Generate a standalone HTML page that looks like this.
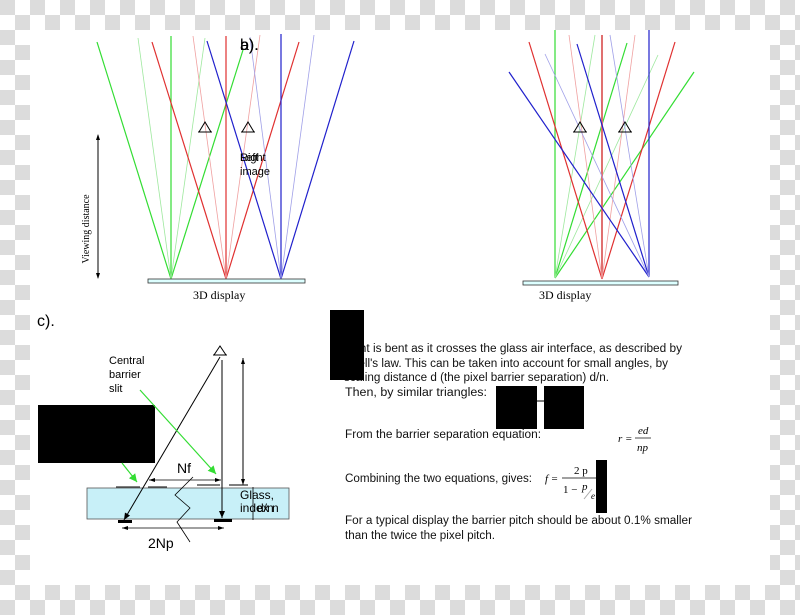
<!DOCTYPE html>
<html><head><meta charset="utf-8"><style>
html,body{margin:0;padding:0}
body{width:800px;height:615px;position:relative;overflow:hidden;
background-color:#fff;
background-image:conic-gradient(#fff 25%,#dcdcdc 0 50%,#fff 0 75%,#dcdcdc 0);
background-size:30px 30px;}
#w{position:absolute;left:30px;top:30px;width:740px;height:555px;background:#fff}
svg{position:absolute;left:0;top:0}
</style></head><body><div id="w"></div>
<svg width="800" height="615" viewBox="0 0 800 615" font-family="Liberation Sans, sans-serif">
<defs>
<marker id="ah" markerWidth="8" markerHeight="8" refX="7" refY="4" orient="auto" markerUnits="userSpaceOnUse"><path d="M0,1 L7,4 L0,7z" fill="#000"/></marker>
<marker id="ga" markerWidth="10" markerHeight="10" refX="8" refY="5" orient="auto" markerUnits="userSpaceOnUse"><path d="M0,1 L8,5 L0,9z" fill="#33dd33"/></marker>
</defs>
<!-- Panel a -->
<g stroke-width="1.2" fill="none">
<line x1="97" y1="42" x2="171" y2="279" stroke="#33dd33"/>
<line x1="171" y1="36" x2="171" y2="279" stroke="#33dd33"/>
<line x1="171" y1="279" x2="243" y2="50" stroke="#33dd33"/>
<line x1="138" y1="38" x2="171" y2="279" stroke="#9ee89e" stroke-width="0.8"/>
<line x1="205" y1="38" x2="171" y2="279" stroke="#9ee89e" stroke-width="0.8"/>
<line x1="152" y1="42" x2="226" y2="279" stroke="#e03030"/>
<line x1="226" y1="36" x2="226" y2="279" stroke="#e03030"/>
<line x1="226" y1="279" x2="299" y2="42" stroke="#e03030"/>
<line x1="193" y1="36" x2="226" y2="279" stroke="#f0a0a0" stroke-width="0.8"/>
<line x1="260" y1="35" x2="226" y2="279" stroke="#f0a0a0" stroke-width="0.8"/>
<line x1="207" y1="41" x2="281" y2="279" stroke="#2020cc"/>
<line x1="281" y1="34" x2="281" y2="279" stroke="#2020cc"/>
<line x1="281" y1="279" x2="354" y2="41" stroke="#2020cc"/>
<line x1="250" y1="37" x2="281" y2="279" stroke="#a0a0e8" stroke-width="0.8"/>
<line x1="314" y1="35" x2="281" y2="279" stroke="#a0a0e8" stroke-width="0.8"/>
</g>
<rect x="148" y="279" width="157" height="4" fill="#dff" stroke="#333" stroke-width="0.8"/>
<text x="240" y="50" font-size="16">b).</text><text x="240" y="50" font-size="16">a).</text>
<g fill="none" stroke="#000" stroke-width="1">
<path d="M199,132 L205,122 L211,132 Z M198,132 L212,132"/>
<path d="M242,132 L248,122 L254,132 Z M241,132 L255,132"/>
</g>
<text x="240" y="161" font-size="11">Right</text><text x="240" y="161" font-size="11">Left</text>
<text x="240" y="175" font-size="11">image</text>
<line x1="98" y1="135" x2="98" y2="278" stroke="#000" stroke-width="1"/>
<path d="M96,140 L98,134 L100,140Z M96,273 L98,279 L100,273Z" fill="#000"/>
<text transform="translate(89,229) rotate(-90)" text-anchor="middle" font-size="10" font-family="Liberation Serif, serif">Viewing distance</text>
<text x="193" y="299" font-size="12" font-family="Liberation Serif, serif">3D display</text>
<!-- Panel b -->
<g stroke-width="1.2" fill="none">
<line x1="555" y1="30" x2="555" y2="278" stroke="#33dd33"/>
<line x1="555" y1="278" x2="627" y2="43" stroke="#33dd33"/>
<line x1="555" y1="278" x2="694" y2="72" stroke="#33dd33"/>
<line x1="555" y1="278" x2="595" y2="35" stroke="#9ee89e" stroke-width="0.8"/>
<line x1="555" y1="278" x2="658" y2="55" stroke="#9ee89e" stroke-width="0.8"/>
<line x1="602" y1="35" x2="602" y2="279" stroke="#e07070" stroke-width="2"/>
<line x1="529" y1="42" x2="602" y2="279" stroke="#e03030"/>
<line x1="602" y1="279" x2="675" y2="42" stroke="#e03030"/>
<line x1="569" y1="35" x2="602" y2="279" stroke="#f0a0a0" stroke-width="0.8"/>
<line x1="635" y1="35" x2="602" y2="279" stroke="#f0a0a0" stroke-width="0.8"/>
<line x1="649" y1="30" x2="649" y2="277" stroke="#2020cc"/>
<line x1="509" y1="72" x2="649" y2="277" stroke="#2020cc"/>
<line x1="577" y1="44" x2="649" y2="277" stroke="#2020cc"/>
<line x1="545" y1="54" x2="649" y2="277" stroke="#a0a0e8" stroke-width="0.8"/>
<line x1="610" y1="35" x2="649" y2="277" stroke="#a0a0e8" stroke-width="0.8"/>
</g>
<rect x="523" y="281" width="155" height="4" fill="#dff" stroke="#333" stroke-width="0.8"/>
<g fill="none" stroke="#000" stroke-width="1">
<path d="M574,132 L580,122 L586,132 Z M573,132 L587,132"/>
<path d="M619,132 L625,122 L631,132 Z M618,132 L632,132"/>
</g>
<text x="539" y="299" font-size="12" font-family="Liberation Serif, serif">3D display</text>
<!-- Panel c -->
<text x="37" y="326" font-size="16">c).</text>
<text font-size="11"><tspan x="109" y="364">Central</tspan><tspan x="109" y="378">barrier</tspan><tspan x="109" y="392">slit</tspan></text>
<rect x="38" y="405" width="117" height="58" fill="#000"/>
<rect x="87" y="488" width="202" height="31" fill="#c8f0f8" stroke="#555" stroke-width="0.8"/>
<path d="M214,355 L220,346 L226,355 Z M213,355 L227,355" fill="none" stroke="#000"/>
<line x1="220" y1="357" x2="124" y2="520" stroke="#000" marker-end="url(#ah)"/>
<line x1="222" y1="360" x2="222" y2="518" stroke="#000" marker-end="url(#ah)"/>
<line x1="243" y1="358" x2="243" y2="485" stroke="#000"/>
<path d="M241,364 L243,358 L245,364Z M241,479 L243,485 L245,479Z" fill="#000"/>
<line x1="253" y1="487" x2="253" y2="520" stroke="#000" stroke-width="0.8"/>
<g stroke="#333" stroke-width="1.2"><line x1="116" y1="487" x2="140" y2="487"/><line x1="148" y1="487" x2="167" y2="487"/><line x1="197" y1="485" x2="220" y2="485"/><line x1="229" y1="485" x2="248" y2="485"/></g>
<rect x="118" y="520" width="14" height="3" fill="#000"/><rect x="214" y="519" width="18" height="3" fill="#000"/>
<line x1="149" y1="480" x2="221" y2="480" stroke="#000" stroke-width="0.8"/>
<path d="M155,478 L149,480 L155,482Z M215,478 L221,480 L215,482Z" fill="#000"/>
<text x="177" y="473" font-size="14">Nf</text>
<line x1="122" y1="528" x2="224" y2="528" stroke="#000" stroke-width="0.8"/>
<path d="M128,526 L122,528 L128,530Z M218,526 L224,528 L218,530Z" fill="#000"/>
<text x="148" y="548" font-size="14">2Np</text>
<path d="M193,477 L175,495 L190,508 L177,522 L190,542" fill="none" stroke="#000" stroke-width="0.8"/>
<line x1="140" y1="390" x2="216" y2="474" stroke="#33dd33" stroke-width="1.2" marker-end="url(#ga)"/>
<line x1="122" y1="463" x2="137" y2="482" stroke="#33dd33" stroke-width="1.2" marker-end="url(#ga)"/>
<text x="240" y="499" font-size="12">Glass,</text>
<text x="240" y="512" font-size="12">index n</text>
<text x="257" y="512" font-size="12">d/n</text>
<!-- text block -->
<g font-size="11.5" fill="#111">
<text x="344" y="352" textLength="338" lengthAdjust="spacingAndGlyphs">Light is bent as it crosses the glass air interface, as described by</text>
<text x="344" y="367" textLength="324" lengthAdjust="spacingAndGlyphs">Snell's law. This can be taken into account for small angles, by</text>
<text x="344" y="381" textLength="265" lengthAdjust="spacingAndGlyphs">scaling distance d (the pixel barrier separation) d/n.</text>
<text x="345" y="396" textLength="142" lengthAdjust="spacingAndGlyphs">Then, by similar triangles:</text>
<text x="345" y="438" textLength="196" lengthAdjust="spacingAndGlyphs">From the barrier separation equation:</text>
<text x="345" y="482" textLength="187" lengthAdjust="spacingAndGlyphs">Combining the two equations, gives:</text>
<text x="345" y="524" textLength="347" lengthAdjust="spacingAndGlyphs">For a typical display the barrier pitch should be about 0.1% smaller</text>
<text x="345" y="539" textLength="150" lengthAdjust="spacingAndGlyphs">than the twice the pixel pitch.</text>
</g>
<rect x="330" y="310" width="34" height="70" fill="#000"/>
<rect x="496" y="386" width="41" height="43" fill="#000"/>
<rect x="544" y="386" width="40" height="43" fill="#000"/>
<line x1="537" y1="401" x2="544" y2="401" stroke="#000"/>
<g font-family="Liberation Serif, serif" font-style="italic" font-size="11">
<text x="618" y="442">r =</text>
<text x="638" y="434">ed</text>
<line x1="635" y1="438" x2="651" y2="438" stroke="#000" stroke-width="0.7"/>
<text x="637" y="451">np</text>
<text x="545" y="482">f =</text>
<text x="574" y="474" font-style="normal">2 p</text>
<line x1="562" y1="478" x2="597" y2="478" stroke="#000" stroke-width="0.7"/>
<text x="563" y="493" font-style="normal">1 &#8722;</text>
<text x="582" y="490">p</text>
<line x1="584" y1="499" x2="592" y2="489" stroke="#aaa"/>
<text x="591" y="499" font-size="9">e</text>
</g>
<rect x="596" y="460" width="11" height="53" fill="#000"/>
</svg>
</body></html>
